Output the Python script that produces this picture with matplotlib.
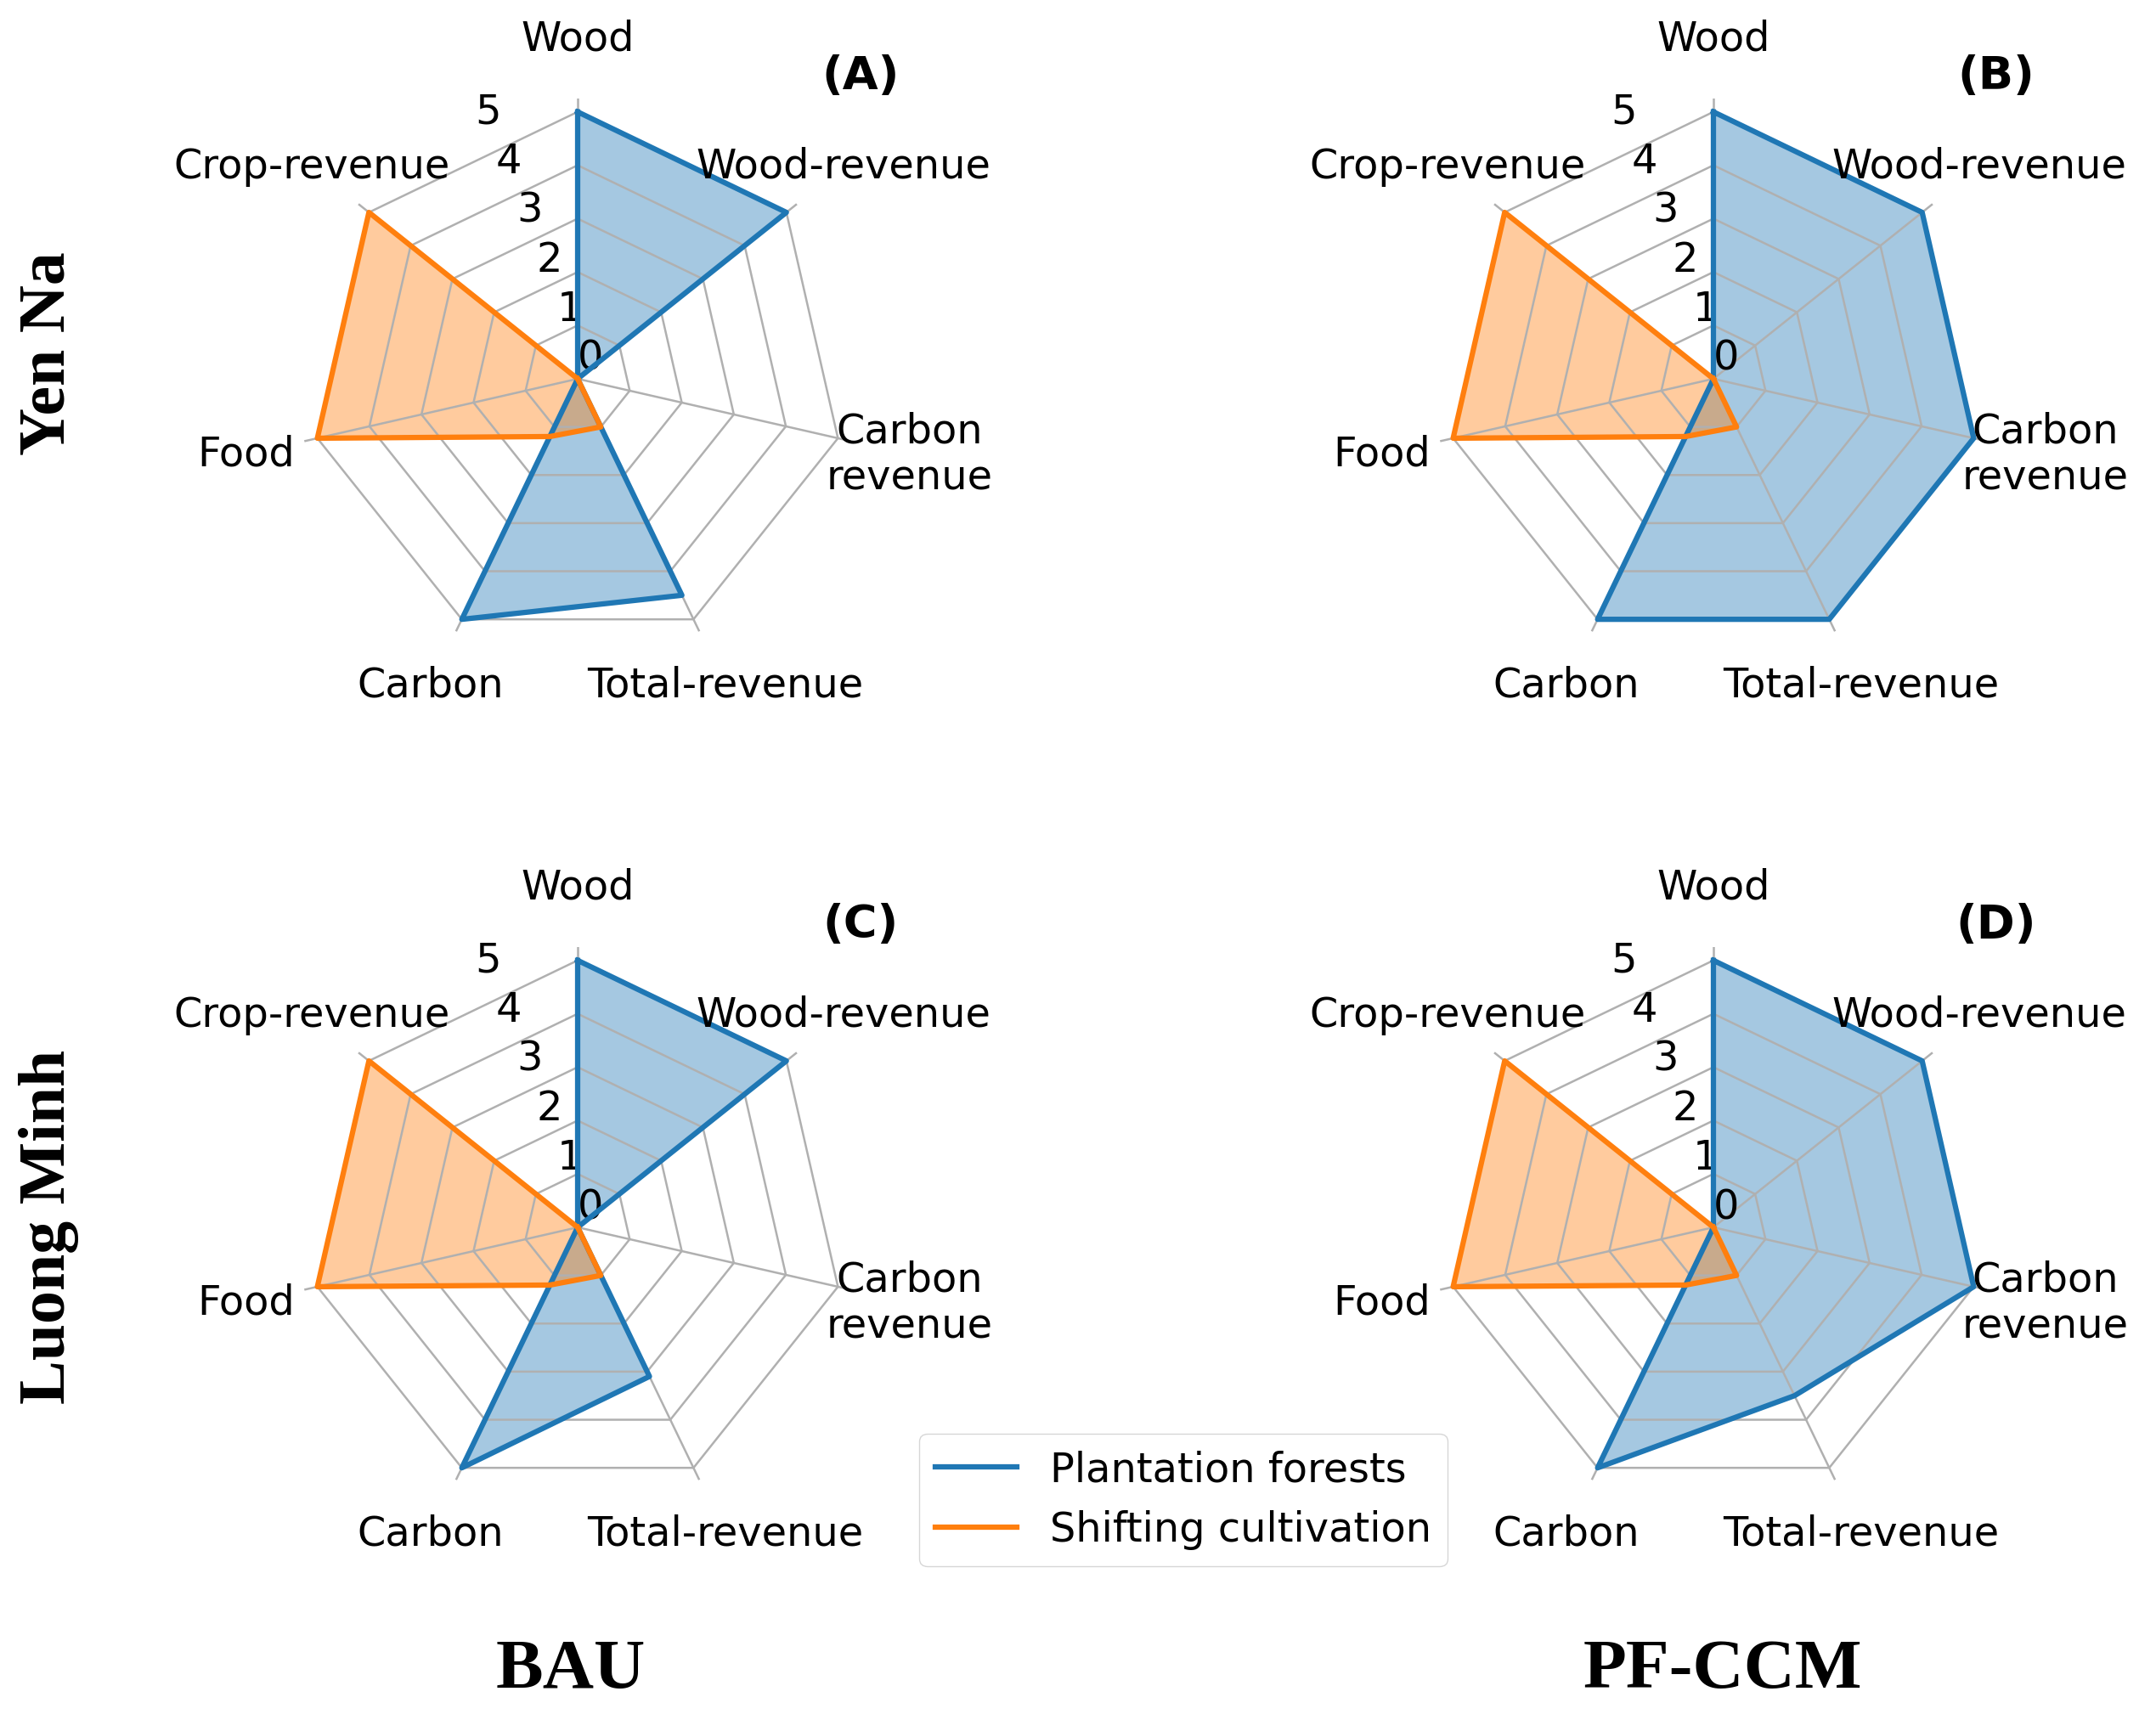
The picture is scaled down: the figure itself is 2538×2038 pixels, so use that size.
import numpy as np
import matplotlib.pyplot as plt

# axis categories, clockwise from the top
categories = ["Wood", "Wood-revenue", "Carbon\nrevenue", "Total-revenue",
              "Carbon", "Food", "Crop-revenue"]

# scores (0-5)
yen_na_bau_pf = [5, 5, 0, 4.5, 5, 0, 0]
yen_na_bau_sc = [0, 0, 0, 1.0, 1.2, 5, 5]
yen_na_ccm_pf = [5, 5, 5, 5, 5, 0, 0]
yen_na_ccm_sc = [0, 0, 0, 1.0, 1.2, 5, 5]
luong_minh_bau_pf = [5, 5, 0, 3.1, 5, 0, 0]
luong_minh_bau_sc = [0, 0, 0, 1.0, 1.2, 5, 5]
luong_minh_ccm_pf = [5, 5, 5, 3.5, 5, 0, 0]
luong_minh_ccm_sc = [0, 0, 0, 1.0, 1.2, 5, 5]

series_names = ["Plantation forests", "Shifting cultivation"]
panel_tags = ["(A)", "(B)", "(C)", "(D)"]
row_names = ["Yen Na", "Luong Minh"]
col_names = ["BAU", "PF-CCM"]

panels = [
    (yen_na_bau_pf, yen_na_bau_sc),
    (yen_na_ccm_pf, yen_na_ccm_sc),
    (luong_minh_bau_pf, luong_minh_bau_sc),
    (luong_minh_ccm_pf, luong_minh_ccm_sc),
]

W, H = 2538, 2038
plt.rcParams["font.family"] = "DejaVu Sans"
plt.rcParams["font.size"] = 34.5
fig = plt.figure(figsize=(W / 100, H / 100), dpi=100)

colors = ["#1f77b4", "#ff7f0e"]
grid_color = "#b0b0b0"
rmax = 5.25
half = 330  # px, radius of the axes box
centers = [(680, 446), (2017, 446), (680, 1445), (2017, 1445)]

n = len(categories)
theta = np.arange(n) * 2 * np.pi / n
closed_theta = np.append(theta, theta[0])

handles = None
for i, ((cx, cy), (pf, sc)) in enumerate(zip(centers, panels)):
    ax = fig.add_axes([(cx - half) / W, 1 - (cy + half) / H, 2 * half / W, 2 * half / H],
                      projection="polar")
    ax.set_theta_offset(np.pi / 2)
    ax.set_theta_direction(-1)
    ax.set_ylim(0, rmax)
    ax.spines["polar"].set_visible(False)

    # spokes from the theta grid, rings drawn as polygons
    ax.set_xticks(theta)
    ax.set_xticklabels([])
    ax.xaxis.grid(True, color=grid_color, lw=1.8)
    ax.yaxis.grid(False)
    ax.set_yticks(range(6))
    ax.set_rlabel_position(-22.5)
    ax.tick_params(axis="y", labelsize=34.5)
    for lvl in range(1, 6):
        ax.plot(closed_theta, [lvl] * (n + 1), color=grid_color, lw=1.8, zorder=1.5)

    lines = []
    for vals, c, name in zip((pf, sc), colors, series_names):
        v = np.append(vals, vals[0])
        ln, = ax.plot(closed_theta, v, color=c, lw=4.5, label=name)
        ax.fill(closed_theta, v, color=c, alpha=0.4)
        lines.append(ln)
    if handles is None:
        handles = lines

    for t, lab in zip(theta, categories):
        ax.text(t, 6.37, lab, ha="center", va="center", multialignment="center",
                fontsize=34.5)

    ax.text(1.004, 1.04, panel_tags[i], transform=ax.transAxes, ha="center",
            va="center", fontsize=39, fontweight="bold")

serif = dict(family=["Liberation Serif", "DejaVu Serif"], fontweight="bold")
fig.text(57 / W, 1 - 416 / H, row_names[0], rotation=90, ha="center", va="center",
         fontsize=56, **serif)
fig.text(58 / W, 1 - 1444 / H, row_names[1], rotation=90, ha="center", va="center",
         fontsize=56, **serif)
fig.text(672 / W, 1 - 1968 / H, col_names[0], ha="center", va="center", fontsize=60, **serif)
fig.text(2028 / W, 1 - 1968 / H, col_names[1], ha="center", va="center", fontsize=60, **serif)

fig.legend(handles, series_names, loc="center",
           bbox_to_anchor=(1393 / W, 1 - 1766 / H), fontsize=34.5)

fig.savefig("out.png", dpi=100)
